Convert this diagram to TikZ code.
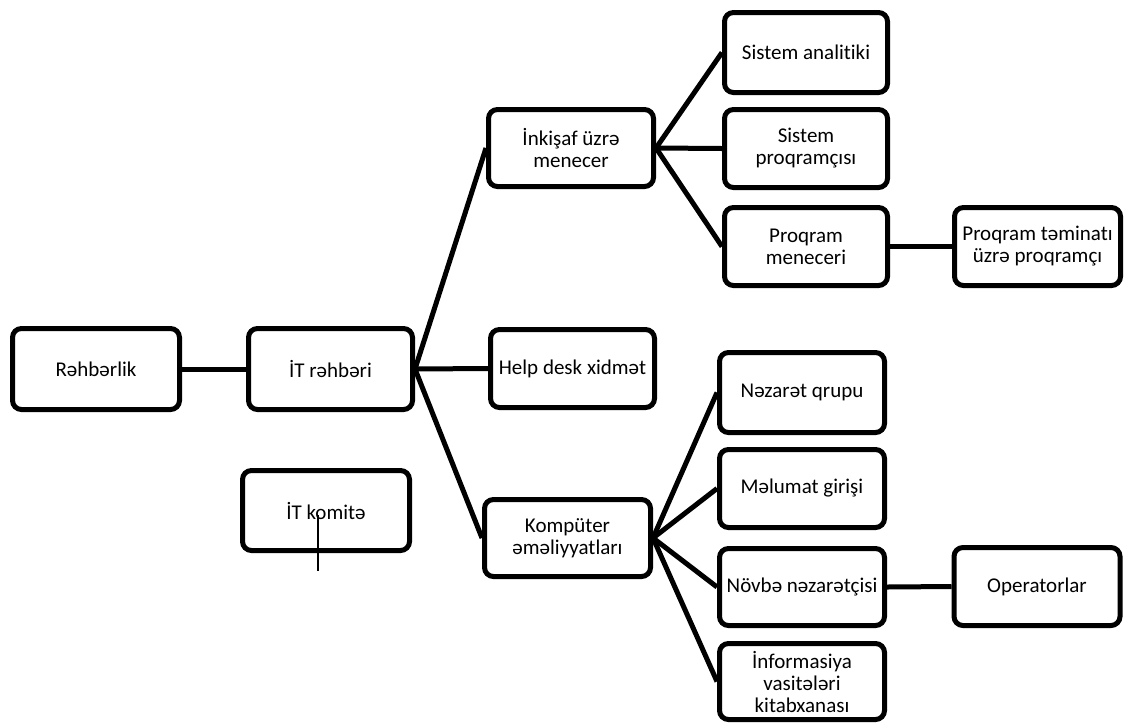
\documentclass[tikz,border=0pt]{standalone}
\usepackage{fontspec}
\setmainfont{Carlito}[Ligatures={NoCommon}]
\begin{document}
\begin{tikzpicture}[x=1pt,y=-1pt,
  box/.style={draw=black, line width=5pt, rounded corners=9pt, fill=white,
    inner sep=0pt, align=center, font=\fontsize{21}{22}\selectfont},
  link/.style={draw=black, line width=5pt},
  thin/.style={draw=black, line width=1.6pt}]
\useasboundingbox (0,0) rectangle (1124,724);

% left column
\node[box, minimum width=167pt, minimum height=81pt] (rehb) at (96,369) {Rəhbərlik};
\node[box, minimum width=164pt, minimum height=81pt] (itr) at (330.5,369) {İT rəhbəri};
\node[box, minimum width=167pt, minimum height=80pt] (komite) at (326,510.5) {İT komitə};

% second level
\node[box, minimum width=165pt, minimum height=77pt] (inkisaf) at (571,148) {İnkişaf üzrə\\menecer};
\node[box, minimum width=164pt, minimum height=78pt] (help) at (572.5,368.5) {Help desk xidmət};
\node[box, minimum width=166pt, minimum height=77pt] (komp) at (567.5,538) {Kompüter\\əməliyyatları};

% development branch
\node[box, minimum width=163pt, minimum height=80pt] (analit) at (806,52.5) {Sistem analitiki};
\node[box, minimum width=163pt, minimum height=78pt] (sproq) at (806,148.5) {Sistem\\proqramçısı};
\node[box, minimum width=163pt, minimum height=78pt] (pmen) at (806,246.5) {Proqram\\meneceri};
\node[box, minimum width=166pt, minimum height=78pt] (ptem) at (1037.5,246.5) {Proqram təminatı\\üzrə proqramçı};

% operations branch
\node[box, minimum width=165pt, minimum height=80pt] (nezaret) at (802,392.5) {Nəzarət qrupu};
\node[box, minimum width=165pt, minimum height=78pt] (melumat) at (802,488.5) {Məlumat girişi};
\node[box, minimum width=165pt, minimum height=77pt] (novbe) at (802,587) {Növbə nəzarətçisi};
\node[box, minimum width=166pt, minimum height=78pt] (oper) at (1037,586.5) {Operatorlar};
\node[box, minimum width=165pt, minimum height=76pt] (info) at (802,681.5) {İnformasiya\\vasitələri\\kitabxanası};

% connectors
\draw[link] (rehb.east) -- (itr.west);
\draw[link] (itr.east) -- (inkisaf.west);
\draw[link] (itr.east) -- (help.west);
\draw[link] (itr.east) -- (komp.west);

\draw[link] (inkisaf.east) -- (analit.west);
\draw[link] (inkisaf.east) -- (sproq.west);
\draw[link] (inkisaf.east) -- (pmen.west);
\draw[link] (pmen.east) -- (ptem.west);

\draw[link] (komp.east) -- (nezaret.west);
\draw[link] (komp.east) -- (melumat.west);
\draw[link] (komp.east) -- (novbe.west);
\draw[link] (komp.east) -- (info.west);
\draw[link] (novbe.east) -- (oper.west);

% short stroke under the committee box
\coordinate (kTop) at (318,515);
\coordinate (kEnd) at (318,571);
\draw[thin] (kTop) -- (kEnd);
\end{tikzpicture}
\end{document}
